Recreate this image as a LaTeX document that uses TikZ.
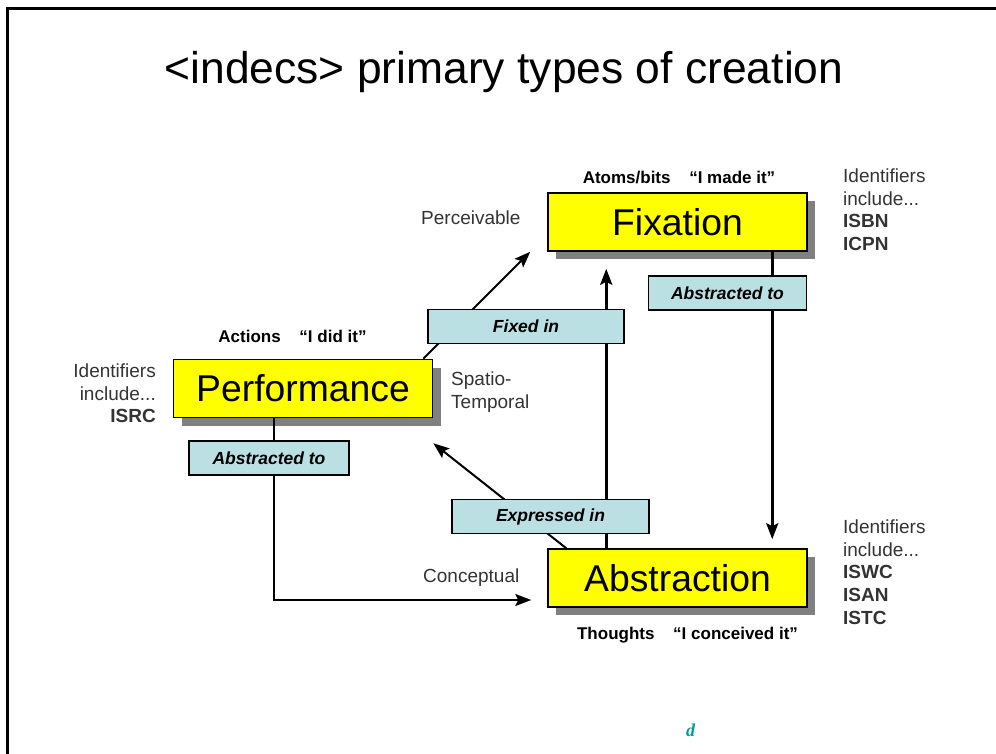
\documentclass[tikz,border=0pt]{standalone}
\usepackage{fontspec}
\setmainfont{Liberation Sans}
\newfontfamily\markfont{Liberation Serif}
\usepackage{xcolor}
\usepackage{tikz}
\usetikzlibrary{positioning,arrows.meta,shadows}
\definecolor{kindyellow}{RGB}{255,255,0}
\definecolor{linkblue}{RGB}{187,224,227}
\definecolor{shadowgray}{RGB}{128,128,128}
\definecolor{markteal}{RGB}{0,153,153}

\begin{document}
\begin{tikzpicture}[
    x=1pt, y=-1pt,
    kind/.style={rectangle, draw, line width=1.5pt, fill=kindyellow, minimum width=259pt, minimum height=58pt, inner sep=0pt,
      font=\fontsize{37.3}{44}\selectfont, general shadow={fill=shadowgray, shadow xshift=8pt, shadow yshift=-8pt}},
    link/.style={rectangle, draw, line width=1.2pt, fill=linkblue, minimum height=34pt, inner sep=0pt,
      font=\fontsize{17.5}{21}\selectfont\bfseries\itshape},
    tag/.style={font=\fontsize{17}{20}\selectfont\bfseries, inner sep=0pt, anchor=base},
    side/.style={font=\fontsize{19}{22.75}\selectfont, text=black!80, inner sep=0pt},
    arr/.style={-{Stealth[length=16pt, width=12pt, inset=3pt]}, line width=2pt}
  ]
    \useasboundingbox (0,0) rectangle (996,754);
    % slide frame and heading
    \draw[line width=3pt] (7.5,754) -- (7.5,8.5) -- (996,8.5);
    \node[font=\fontsize{44.4}{50}\selectfont, inner sep=0pt, anchor=base] (title) at (504,84) {<indecs> primary types of creation};

    % the three kinds of creation
    \node[kind] (fix) at (677.5,222) {Fixation};
    \node[kind] (perf) at (303,388.5) {Performance};
    \node[kind] (abs) at (677.5,578) {Abstraction};
    \node[tag] (fixcap) at (679,184) {Atoms/bits\hspace{1.1em}“I made it”};
    \node[tag] (perfcap) at (292.5,342) {Actions\hspace{1.1em}“I did it”};
    \node[tag] (abscap) at (687.5,639) {Thoughts\hspace{1.1em}“I conceived it”};

    % relations
    \draw[arr] ([xshift=-10pt]perf.north east) -- ([xshift=-17pt]fix.south west);
    \draw[arr, line width=3pt] ([xshift=59pt]abs.north west) -- ([xshift=59pt, yshift=-17pt]fix.south west);
    \draw[arr, line width=3pt] ([xshift=225pt]fix.south west) -- ([xshift=225pt, yshift=9pt]abs.north west);
    \draw[arr] ([xshift=19pt]abs.north west) -- ([yshift=-25pt]perf.south east);
    \draw[arr, line width=1.8pt] ([xshift=-29pt]perf.south) |- ([xshift=-16pt, yshift=-22pt]abs.west);
    \node[link, minimum width=196pt] (fixin) at (526,326.5) {Fixed in};
    \node[link, minimum width=158pt] (fixabs) at (727.5,293) {Abstracted to};
    \node[link, minimum width=160pt] (perfabs) at (269,458) {Abstracted to};
    \node[link, minimum width=197pt] (expin) at (550.5,516.5) {Expressed in};

    % side notes
    \node[side, anchor=base west] (perc) at (421,225) {Perceivable};
    \node[side, anchor=base west] (conc) at (423,582) {Conceptual};
    \node[side, align=left, anchor=north west] (spat) at (451,371.4) {Spatio-\\Temporal};
    \node[side, align=left, anchor=north west] (fixids) at (843,168.4) {Identifiers\\include...\\\textbf{ISBN}\\\textbf{ICPN}};
    \node[side, align=left, anchor=north west] (absids) at (843,519.4) {Identifiers\\include...\\\textbf{ISWC}\\\textbf{ISAN}\\\textbf{ISTC}};
    \node[side, align=right, anchor=north east] (perfids) at (156,363.4) {Identifiers\\include...\\\textbf{ISRC}};

    \node[font=\markfont\fontsize{18}{20}\selectfont\bfseries\itshape, text=markteal, inner sep=0pt, anchor=base] (mark) at (690.5,736) {d};
  \end{tikzpicture}
\end{document}
